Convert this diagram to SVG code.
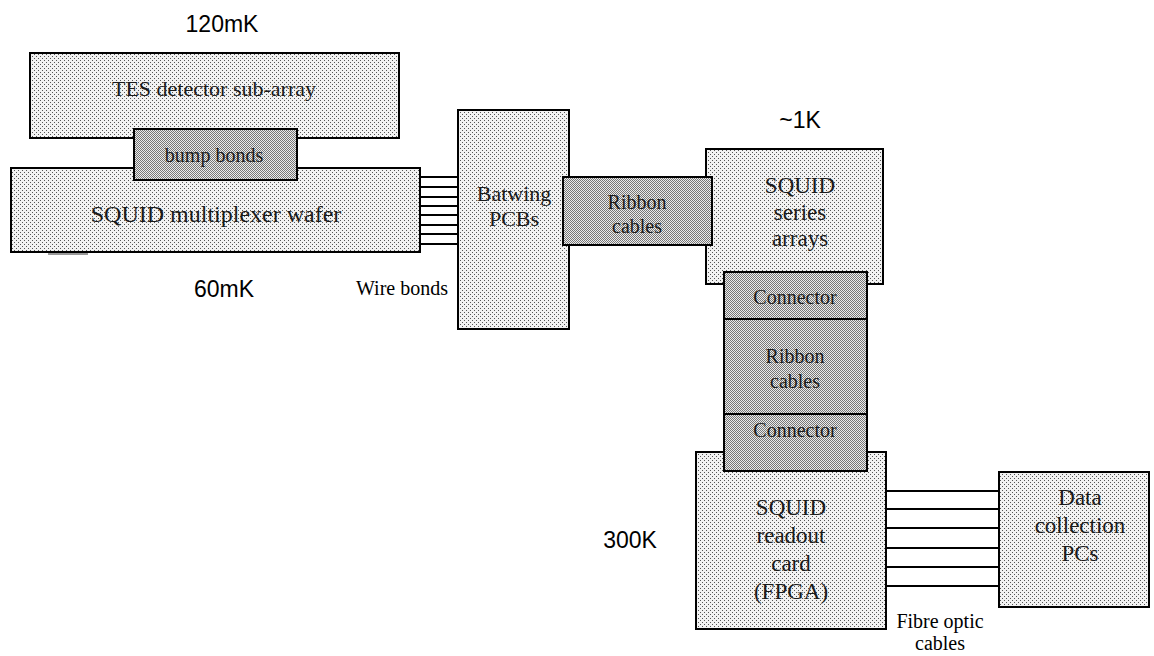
<svg xmlns="http://www.w3.org/2000/svg" width="1154" height="656" viewBox="0 0 1154 656">
<defs>
<pattern id="light" width="4" height="4" patternUnits="userSpaceOnUse">
<rect width="4" height="4" fill="#f2f2f2"/>
<rect x="0" y="0" width="1" height="1" fill="#555"/>
<rect x="2" y="2" width="1" height="1" fill="#555"/>
</pattern>
<pattern id="dense" width="2" height="2" patternUnits="userSpaceOnUse">
<rect width="2" height="2" fill="#ececec"/>
<rect x="0" y="0" width="1" height="1" fill="#777"/>
<rect x="1" y="1" width="1" height="1" fill="#777"/>
</pattern>
</defs>
<style>
.lt{fill:url(#light);stroke:#000;stroke-width:2}
.dn{fill:url(#dense);stroke:#000;stroke-width:2}
.bt{font-family:"Liberation Serif","Times New Roman",serif;fill:#1a1a1a;text-anchor:middle}
.tk{font-family:"Liberation Sans",Arial,sans-serif;font-size:23px;fill:#000;text-anchor:middle}
.lbl{font-family:"Liberation Serif","Times New Roman",serif;font-size:20px;fill:#000;text-anchor:middle}
.wire{stroke:#000;stroke-width:2}
</style>

<text class="tk" x="222" y="32">120mK</text>
<text class="tk" x="224" y="297">60mK</text>
<text class="tk" x="800" y="128">~1K</text>
<text class="tk" x="630" y="548">300K</text>

<g id="connectors">
<g class="wire">
<line x1="420" y1="177" x2="458" y2="177"/>
<line x1="420" y1="187" x2="458" y2="187"/>
<line x1="420" y1="197" x2="458" y2="197"/>
<line x1="420" y1="206" x2="458" y2="206"/>
<line x1="420" y1="215" x2="458" y2="215"/>
<line x1="420" y1="225" x2="458" y2="225"/>
<line x1="420" y1="234" x2="458" y2="234"/>
<line x1="420" y1="244" x2="458" y2="244"/>
<line x1="886" y1="491" x2="999" y2="491"/>
<line x1="886" y1="509" x2="999" y2="509"/>
<line x1="886" y1="528" x2="999" y2="528"/>
<line x1="886" y1="548" x2="999" y2="548"/>
<line x1="886" y1="567" x2="999" y2="567"/>
<line x1="886" y1="586" x2="999" y2="586"/>
</g>
<text class="lbl" x="402" y="295">Wire bonds</text>
<text class="lbl" x="940" y="628">Fibre optic</text>
<text class="lbl" x="940" y="650">cables</text>
</g>

<g id="tes">
<rect class="lt" x="30" y="53" width="369" height="85"/>
<text class="bt" x="214" y="96" font-size="22">TES detector sub-array</text>
</g>
<g id="mux">
<rect class="lt" x="11" y="168" width="409" height="84"/>
<line x1="48" y1="254" x2="88" y2="254" stroke="#999" stroke-width="2"/>
<text class="bt" x="216" y="222" font-size="24">SQUID multiplexer wafer</text>
</g>
<g id="bump">
<rect class="dn" x="134" y="129" width="163" height="51"/>
<text class="bt" x="214" y="162" font-size="20">bump bonds</text>
</g>
<g id="batwing">
<rect class="lt" x="458" y="110" width="111" height="219"/>
<text class="bt" x="514" y="201" font-size="22">Batwing</text>
<text class="bt" x="514" y="226" font-size="22">PCBs</text>
</g>
<g id="series">
<rect class="lt" x="706" y="149" width="177" height="135"/>
<text class="bt" x="800" y="193" font-size="23">SQUID</text>
<text class="bt" x="800" y="220" font-size="23">series</text>
<text class="bt" x="800" y="246" font-size="23">arrays</text>
</g>
<g id="ribbon1">
<rect class="dn" x="563" y="177" width="149" height="68"/>
<text class="bt" x="637" y="209" font-size="20">Ribbon</text>
<text class="bt" x="637" y="233" font-size="20">cables</text>
</g>
<g id="readout">
<rect class="lt" x="696" y="452" width="190" height="177"/>
<text class="bt" x="791" y="515" font-size="23">SQUID</text>
<text class="bt" x="791" y="543" font-size="23">readout</text>
<text class="bt" x="791" y="571" font-size="23">card</text>
<text class="bt" x="791" y="599" font-size="23">(FPGA)</text>
</g>
<g id="connector1">
<rect class="dn" x="724" y="272" width="143" height="47"/>
<text class="bt" x="795" y="304" font-size="20">Connector</text>
</g>
<g id="ribbon2">
<rect class="dn" x="724" y="319" width="143" height="95"/>
<text class="bt" x="795" y="363" font-size="20">Ribbon</text>
<text class="bt" x="795" y="388" font-size="20">cables</text>
</g>
<g id="connector2">
<rect class="dn" x="724" y="414" width="143" height="57"/>
<text class="bt" x="795" y="437" font-size="20">Connector</text>
</g>
<g id="datapc">
<rect class="lt" x="999" y="472" width="150" height="135"/>
<text class="bt" x="1080" y="505" font-size="23">Data</text>
<text class="bt" x="1080" y="533" font-size="23">collection</text>
<text class="bt" x="1080" y="561" font-size="23">PCs</text>
</g>
</svg>
